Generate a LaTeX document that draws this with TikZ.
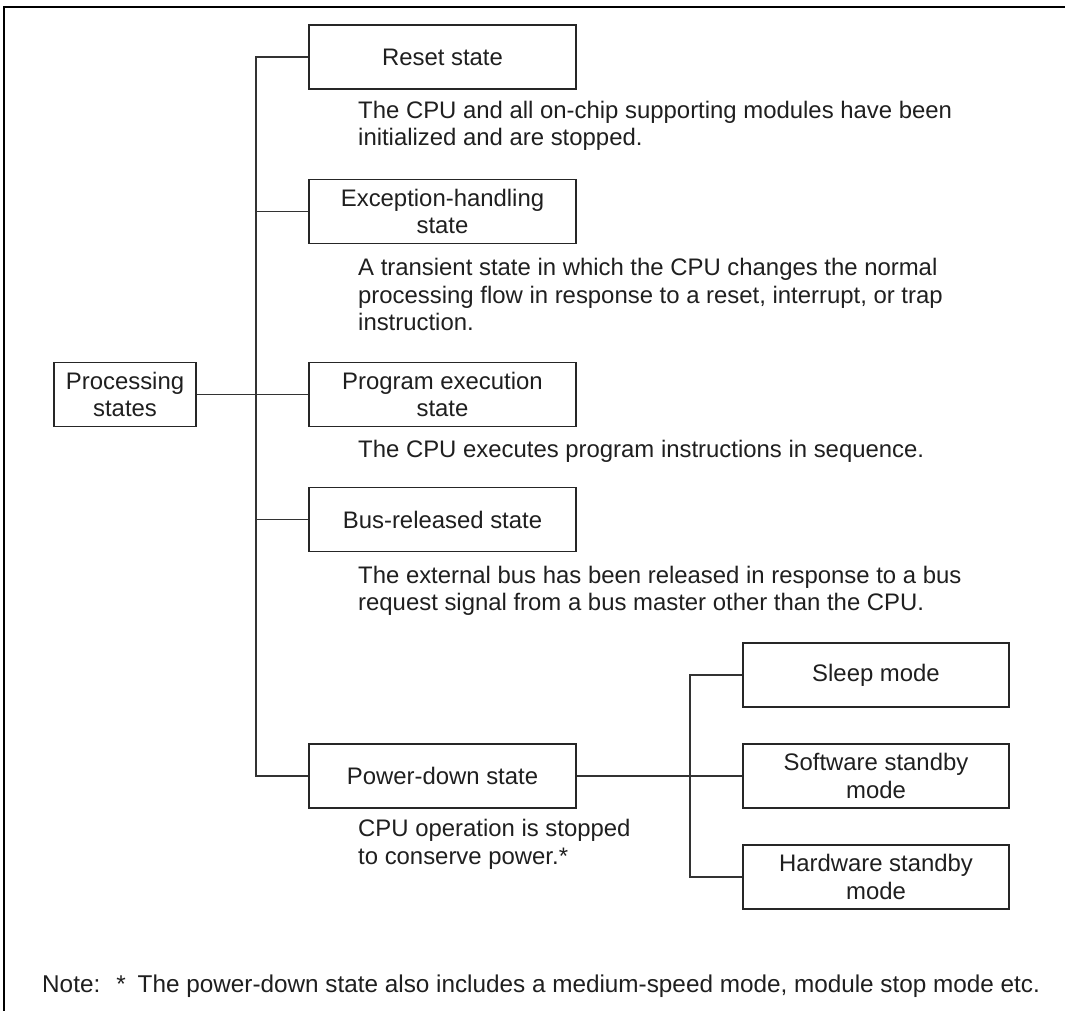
\documentclass[tikz,border=0pt]{standalone}
\usepackage{fontspec}
\setmainfont{Liberation Sans}
\begin{document}
\begin{tikzpicture}[x=1pt,y=-1pt,
  every node/.style={font=\fontsize{23.9}{27.5}\selectfont, text=black!88},
  statebox/.style={draw=black!85, line width=1.9pt, minimum width=267pt, minimum height=64pt, align=center, inner sep=0pt},
  modebox/.style={statebox, minimum width=266pt},
  desc/.style={anchor=base west, inner sep=0pt},
  link/.style={draw=black!80, line width=1.1pt},
  frame/.style={line width=2.3pt, draw=black, line join=miter}]
\useasboundingbox (0,0) rectangle (1065,1011);
\draw[frame] (1065,7) -- (4,7) -- (4,1011);

% main states
\node[statebox] (reset) at (442.5,57) {Reset state};
\node[statebox] (exc) at (442.5,211.5) {Exception-handling\\state};
\node[statebox] (prog) at (442.5,394.5) {Program execution\\state};
\node[statebox] (bus) at (442.5,519.5) {Bus-released state};
\node[statebox] (pd) at (442.5,776) {Power-down state};
\node[statebox, minimum width=142pt] (proc) at (125,394.5) {Processing\\states};

% power-down modes
\node[modebox] (sleep) at (876,675) {Sleep mode};
\node[modebox] (sw) at (876,776) {Software standby\\mode};
\node[modebox] (hw) at (876,877) {Hardware standby\\mode};

% trunk coordinates
\coordinate (tk) at (256,0);
\coordinate (sk) at (690,0);

% connectors
\draw[link] (reset.west) -| (tk |- pd.west) -- (pd.west);
\draw[link] (exc.west) -- (exc.west -| tk);
\draw[link] (proc.east) -- (prog.west);
\draw[link] (bus.west) -- (bus.west -| tk);
\draw[link] (sleep.west) -| (sk |- hw.west) -- (hw.west);
\draw[link] (pd.east) -- (sw.west);

% descriptions
\node[desc] (rd1) at (358,119) {The CPU and all on-chip supporting modules have been};
\node[desc] (rd2) at (358,146) {initialized and are stopped.};
\node[desc] (ed1) at (358,275) {A transient state in which the CPU changes the normal};
\node[desc] (ed2) at (358,303) {processing flow in response to a reset, interrupt, or trap};
\node[desc] (ed3) at (358,330) {instruction.};
\node[desc] (pe1) at (358,457) {The CPU executes program instructions in sequence.};
\node[desc] (bd1) at (358,583) {The external bus has been released in response to a bus};
\node[desc] (bd2) at (358,610) {request signal from a bus master other than the CPU.};
\node[desc] (wd1) at (358,836) {CPU operation is stopped};
\node[desc] (wd2) at (358,864) {to conserve power.*};
\node[desc, font=\fontsize{24.3}{28}\selectfont] (note) at (42,992) {Note:\hspace{16pt}*\hspace{12pt}The power-down state also includes a medium-speed mode, module stop mode etc.};
\end{tikzpicture}
\end{document}
